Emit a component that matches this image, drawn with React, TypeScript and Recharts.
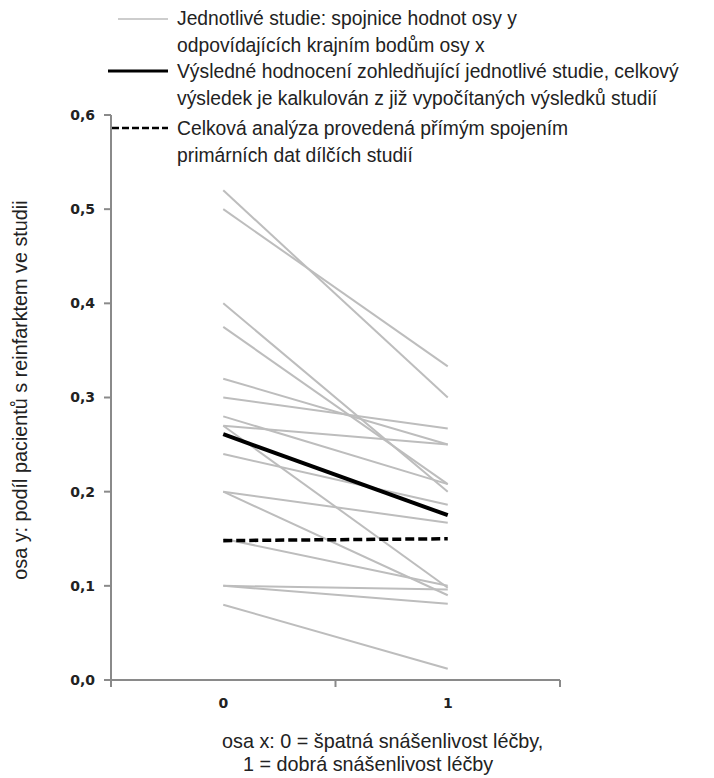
import React from "react";
import { LineChart, Line, XAxis, YAxis } from "recharts";

// Category positions on the x axis
const xCategories = [0, 1];

// Individual studies: value at x=0 and at x=1
const studyStart = [0.52, 0.5, 0.4, 0.375, 0.32, 0.3, 0.28, 0.27, 0.27, 0.24, 0.2, 0.2, 0.15, 0.1, 0.1, 0.08];
const studyEnd = [0.3, 0.333, 0.2, 0.208, 0.25, 0.267, 0.208, 0.25, 0.098, 0.186, 0.167, 0.09, 0.1, 0.096, 0.081, 0.012];

// Pooled results
const pooledWeighted = [0.261, 0.175];
const pooledPrimary = [0.148, 0.15];

const yTicks = [0, 0.1, 0.2, 0.3, 0.4, 0.5, 0.6];
const xTicks = [-0.5, 0, 0.5, 1, 1.5];

const legendTexts = [
  ["Jednotlivé studie: spojnice hodnot osy y", "odpovídajících krajním bodům osy x"],
  ["Výsledné hodnocení zohledňující jednotlivé studie, celkový", "výsledek je kalkulován z již vypočítaných výsledků studií"],
  ["Celková analýza provedená přímým spojením", "primárních dat dílčích studií"],
];
const yTitle = "osa y: podíl pacientů s reinfarktem ve studii";
const xTitle = ["osa x: 0 = špatná snášenlivost léčby,", "1 = dobrá snášenlivost léčby"];

const data = xCategories.map((x, i) => {
  const row: Record<string, number> = { x };
  studyStart.forEach((s, k) => {
    row["s" + k] = i === 0 ? s : studyEnd[k];
  });
  row.weighted = pooledWeighted[i];
  row.primary = pooledPrimary[i];
  return row;
});

const GRAY = "#bdbdbd";
const AXIS = "#8a8a8a";
const TEXT = "#222";
const FONT = "'Liberation Sans', Arial, sans-serif";
const TICKFONT = "'DejaVu Sans', sans-serif";

const fmt = (v: number) => v.toFixed(1).replace(".", ",");

const XTick = (props: any) => {
  const { x, y, payload } = props;
  const v = payload.value;
  if (Math.abs(v - Math.round(v)) > 0.01) {
    return <line x1={x} x2={x} y1={y} y2={y + 7} stroke={AXIS} strokeWidth={2} />;
  }
  return (
    <text x={x} y={y + 28} textAnchor="middle" fontFamily={TICKFONT} fontWeight="bold" fontSize={14} fill={TEXT}>
      {String(v)}
    </text>
  );
};

export default function App() {
  const W = 698;
  const H = 762;
  const HO = 770;
  return (
    <div style={{ position: "relative", width: W, height: HO }}>
      <LineChart width={W} height={H} data={data} margin={{ top: 107, right: 146, bottom: 60, left: 43 }}>
        <XAxis
          dataKey="x"
          type="number"
          domain={[-0.5, 1.5]}
          ticks={xTicks}
          tickLine={false}
          tickSize={0}
          tickMargin={0}
          height={30}
          interval={0}
          axisLine={{ stroke: AXIS, strokeWidth: 2 }}
          tick={<XTick />}
        />
        <YAxis
          type="number"
          domain={[0, 0.6]}
          ticks={yTicks}
          width={60}
          interval={0}
          tickSize={7}
          tickMargin={9}
          tickFormatter={fmt}
          axisLine={{ stroke: AXIS, strokeWidth: 2 }}
          tickLine={{ stroke: AXIS, strokeWidth: 2 }}
          tick={{ fontFamily: TICKFONT, fontWeight: "bold", fontSize: 14, fill: TEXT }}
        />
        {studyStart.map((_, k) => (
          <Line
            key={k}
            dataKey={"s" + k}
            stroke={GRAY}
            strokeWidth={2}
            dot={false}
            activeDot={false}
            isAnimationActive={false}
          />
        ))}
        <Line dataKey="primary" stroke="#000" strokeWidth={3.5} strokeDasharray="9 4" dot={false} activeDot={false} isAnimationActive={false} />
        <Line dataKey="weighted" stroke="#000" strokeWidth={4} dot={false} activeDot={false} isAnimationActive={false} />
      </LineChart>
      <svg
        width={W}
        height={HO}
        style={{ position: "absolute", left: 0, top: 0, pointerEvents: "none" }}
      >
        <g fontFamily={FONT} fontSize={19.3} fill={TEXT}>
          <line x1={110} x2={160} y1={11} y2={11} stroke={GRAY} strokeWidth={1.5} />
          <text x={169} y={17}>{legendTexts[0][0]}</text>
          <text x={169} y={44}>{legendTexts[0][1]}</text>
          <line x1={100} x2={160} y1={63} y2={63} stroke="#000" strokeWidth={3} />
          <text x={169} y={70}>{legendTexts[1][0]}</text>
          <text x={169} y={97}>{legendTexts[1][1]}</text>
          <line x1={104} x2={160} y1={120} y2={120} stroke="#000" strokeWidth={2.5} strokeDasharray="7 3" />
          <text x={169} y={127}>{legendTexts[2][0]}</text>
          <text x={169} y={154}>{legendTexts[2][1]}</text>
        </g>
        <g fontFamily={FONT} fontSize={19.8} fill={TEXT}>
          <text x={0} y={0} transform="translate(19 382) rotate(-90)" textAnchor="middle">{yTitle}</text>
          <text x={214} y={740}>{xTitle[0]}</text>
          <text x={235} y={763}>{xTitle[1]}</text>
        </g>
      </svg>
    </div>
  );
}
